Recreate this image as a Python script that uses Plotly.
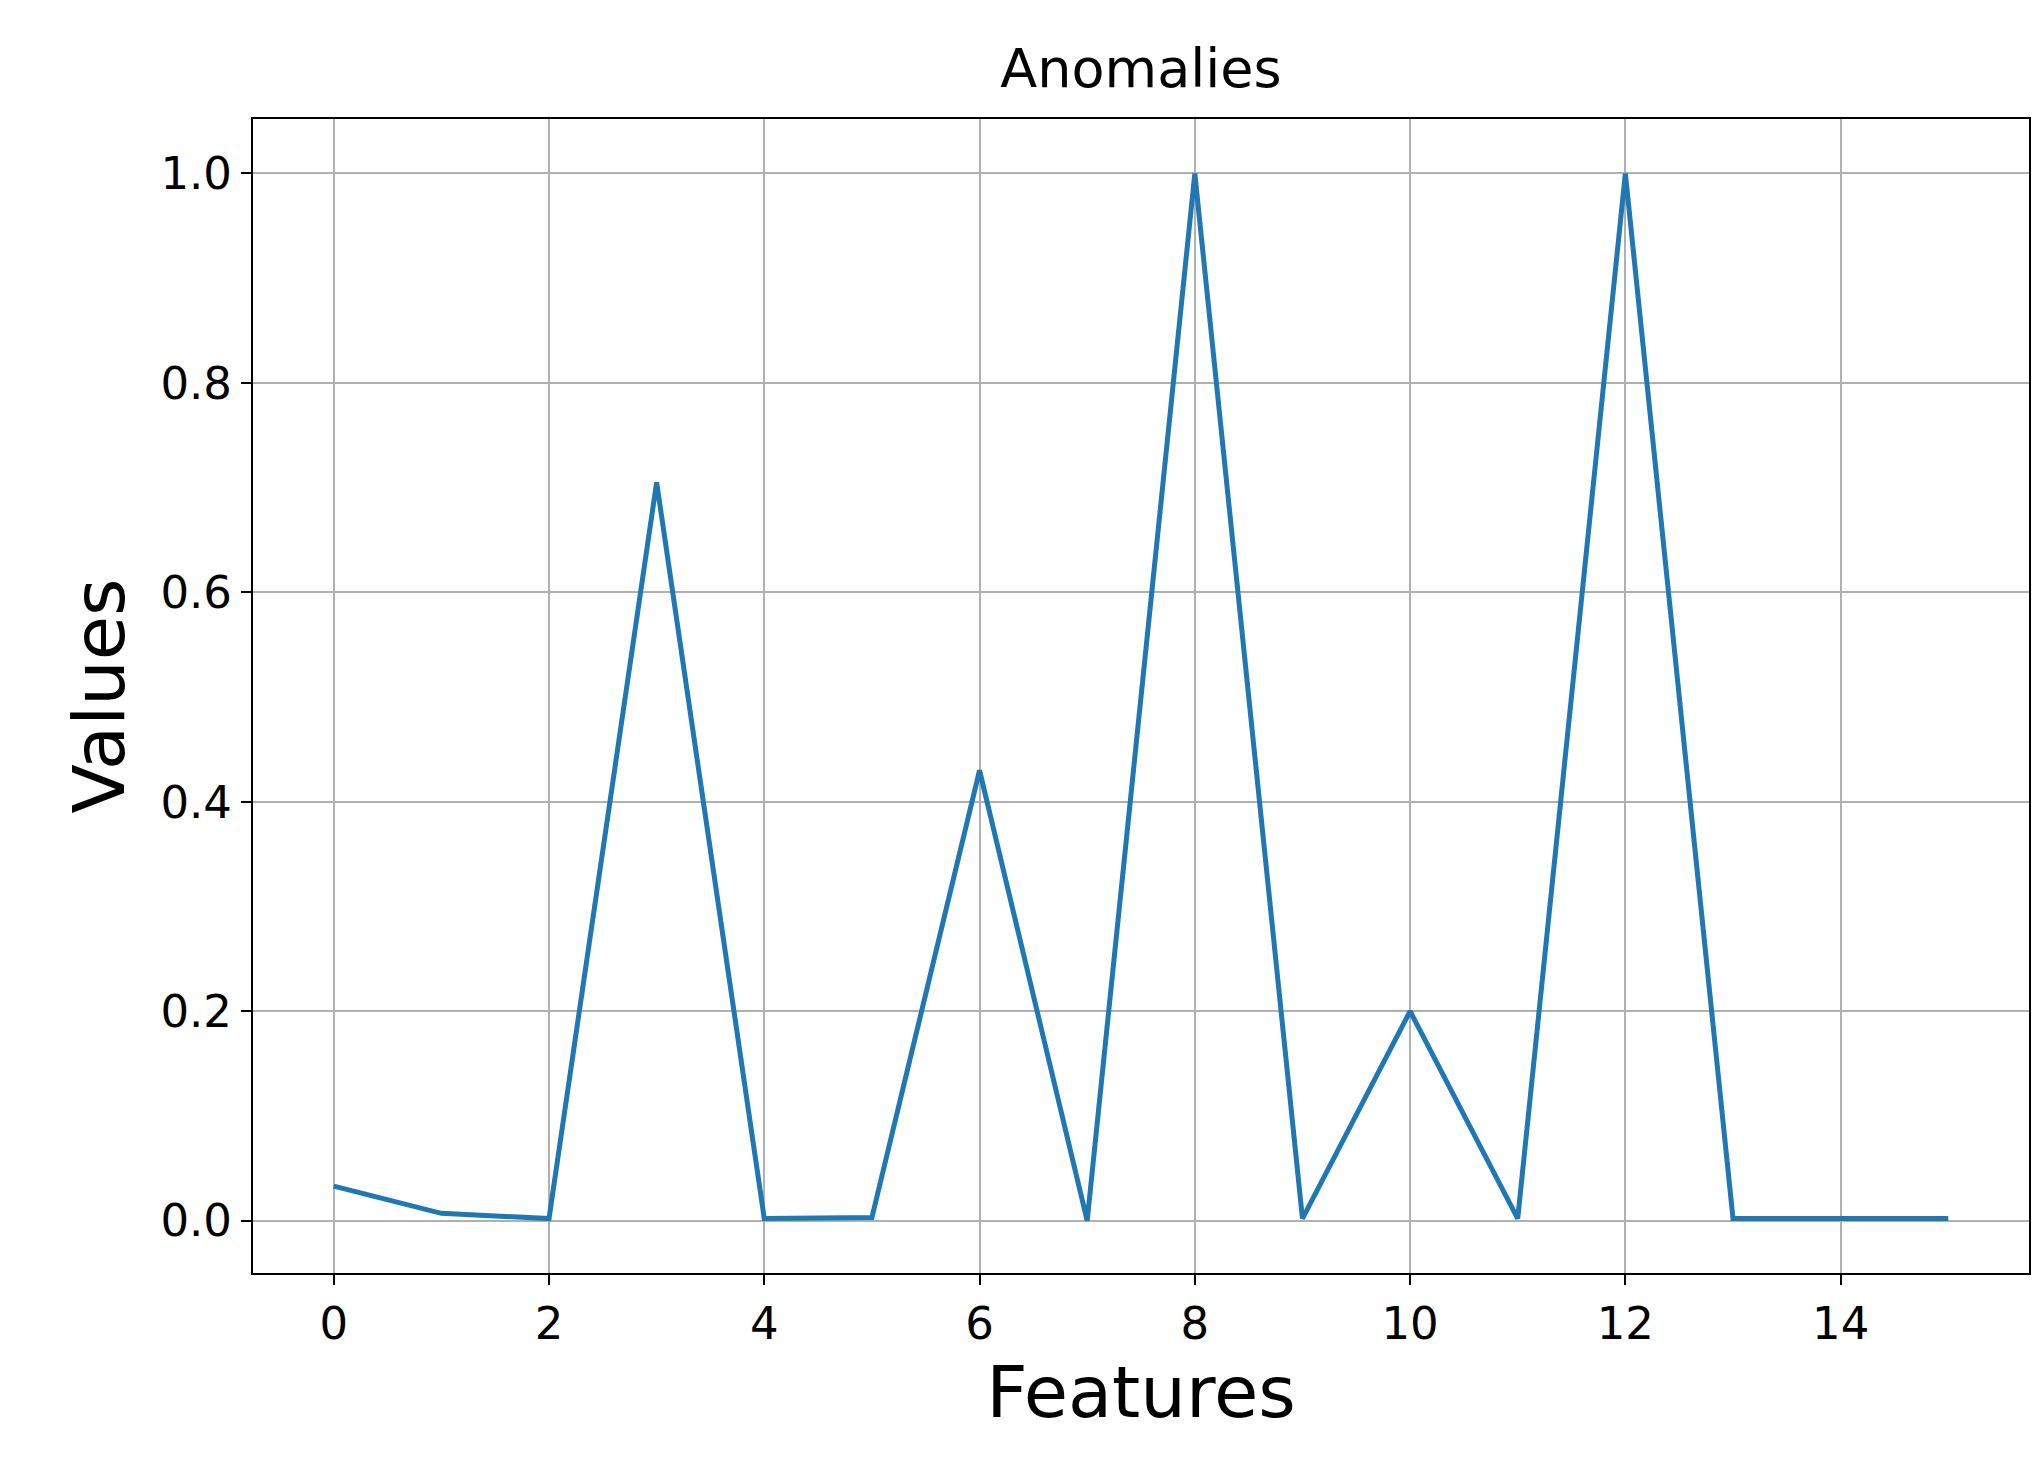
import plotly.graph_objects as go

features = list(range(16))
values = [0.033, 0.007, 0.002, 0.705, 0.002, 0.003, 0.43, 0.0, 1.0, 0.002, 0.2, 0.002, 1.0, 0.002, 0.002, 0.002]

fig = go.Figure(go.Scatter(x=features, y=values, mode="lines",
                           line=dict(color="#1f77b4", width=5)))
font = "DejaVu Sans"
fig.update_layout(
    width=2044, height=1460, paper_bgcolor="white", plot_bgcolor="white",
    margin=dict(l=245, r=23, t=111, b=195),
    title=dict(text="Anomalies", x=0.5, xref="paper", xanchor="center", y=1 - 60/1460, yanchor="middle",
               font=dict(family=font, size=54, color="black")),
    showlegend=False,
)
axis_common = dict(showline=True, mirror=True, linecolor="black", linewidth=2,
                   showgrid=True, gridcolor="#b0b0b0", gridwidth=2, zeroline=False,
                   ticks="outside", ticklen=10, tickwidth=2, tickcolor="black",
                   tickfont=dict(family=font, size=45, color="black"))
fig.update_xaxes(range=[-0.75, 15.75], tickvals=list(range(0, 16, 2)),
                 title=dict(text="Features", font=dict(family=font, size=72, color="black"), standoff=8),
                 **axis_common)
fig.update_yaxes(range=[-0.05, 1.052], tickvals=[0, 0.2, 0.4, 0.6, 0.8, 1.0], tickformat=".1f",
                 title=dict(text="Values", font=dict(family=font, size=72, color="black"), standoff=12),
                 **axis_common)
fig.write_html("out.html")
